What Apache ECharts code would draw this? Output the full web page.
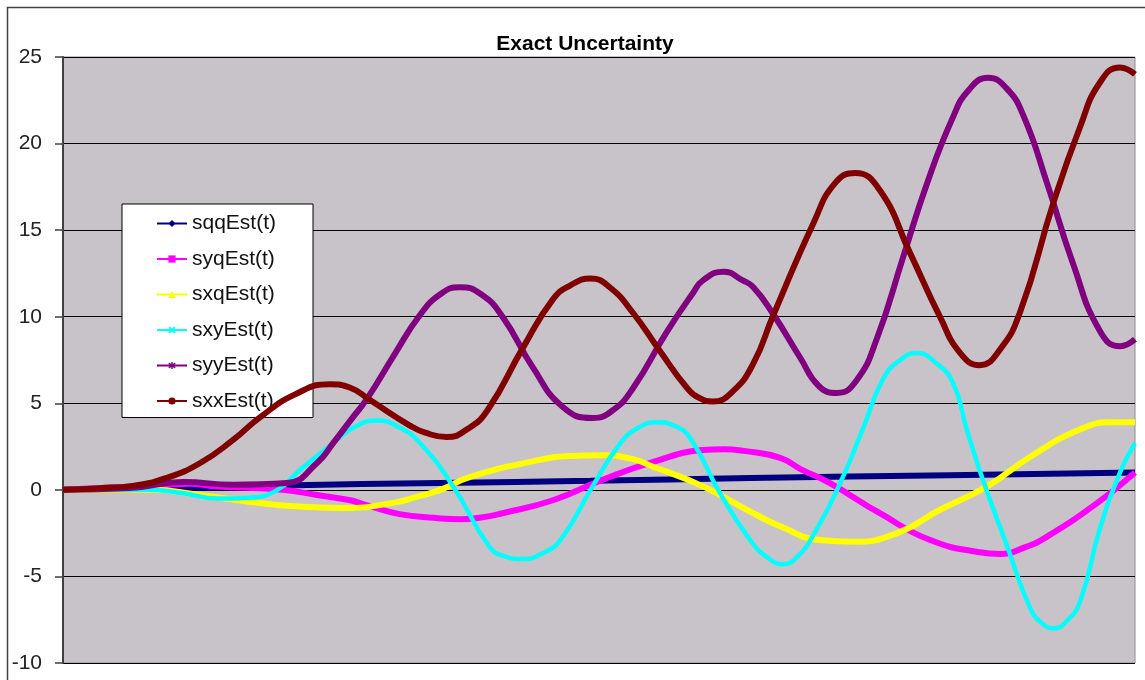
<!DOCTYPE html>
<html>
<head>
<meta charset="utf-8">
<script src="https://cdn.jsdelivr.net/npm/echarts@6/dist/echarts.min.js"></script>
<style>
html,body{margin:0;padding:0;background:#fff;}
#main{width:1145px;height:680px;}
</style>
</head>
<body>
<div id="main"></div>
<script>
const titleText = 'Exact Uncertainty';
const yTicks = [-10, -5, 0, 5, 10, 15, 20, 25];
const seriesNames = ['sqqEst(t)', 'syqEst(t)', 'sxqEst(t)', 'sxyEst(t)', 'syyEst(t)', 'sxxEst(t)'];

const sqq = [[0,0],[0.81,0.05],[1.28,0.12],[2.05,0.25],[3.52,0.4],[4.92,0.52],[6.41,0.68],[8.27,0.85],[10,1.0]];
const syq = [[0,0],[0.65,0.2],[0.97,0.3],[1.18,0.35],[1.44,0.2],[2.05,0],[2.37,-0.3],[2.68,-0.6],[2.84,-0.9],[3.14,-1.4],[3.52,-1.65],[3.70,-1.7],[3.90,-1.6],[4.10,-1.35],[4.57,-0.6],[5.04,0.6],[5.50,1.6],[5.97,2.3],[6.16,2.35],[6.35,2.25],[6.69,1.85],[6.88,1.2],[7.15,0.4],[7.62,-1.35],[8.09,-2.9],[8.55,-3.6],[8.74,-3.7],[8.96,-3.35],[9.18,-2.7],[9.65,-0.75],[10,1.0]];
const sxq = [[0,0],[0.81,0],[1.28,-0.3],[1.75,-0.7],[2.15,-0.95],[2.61,-1.05],[3.08,-0.75],[3.33,-0.35],[3.52,0],[3.80,0.75],[4.42,1.7],[4.73,1.95],[5.04,2.0],[5.30,1.8],[5.50,1.35],[5.97,0.2],[6.44,-1.35],[6.69,-2.1],[7.06,-2.9],[7.37,-3.0],[7.78,-2.5],[8.18,-1.15],[8.62,0.2],[9.02,1.9],[9.49,3.5],[9.79,3.9],[10,3.9]];
const sxy = [[0,0],[0.44,0],[0.81,0],[1.12,-0.2],[1.44,-0.5],[1.74,-0.45],[2.0,0],[2.21,1.15],[2.52,2.7],[2.71,3.6],[2.93,4.0],[3.14,3.6],[3.33,2.7],[3.64,0.2],[3.98,-3.3],[4.13,-3.85],[4.29,-4.0],[4.46,-3.7],[4.64,-2.9],[4.94,0.2],[5.20,2.7],[5.37,3.6],[5.54,3.9],[5.70,3.7],[5.85,3.0],[6.13,-0.2],[6.41,-2.9],[6.57,-3.9],[6.72,-4.3],[6.86,-3.8],[7.00,-2.6],[7.25,0.4],[7.46,3.5],[7.65,6.4],[7.81,7.5],[7.97,7.9],[8.13,7.4],[8.30,6.2],[8.43,3.5],[8.58,0.6],[8.81,-3.3],[9.02,-6.8],[9.13,-7.7],[9.24,-8.0],[9.36,-7.6],[9.49,-6.4],[9.67,-2.3],[9.86,1.0],[10,2.7]];
const syy = [[0,0],[0.62,0.1],[1.12,0.45],[1.59,0.3],[2.09,0.4],[2.37,1.55],[2.52,2.7],[2.68,4.0],[2.84,5.3],[3.08,7.7],[3.33,10.1],[3.52,11.3],[3.70,11.7],[3.90,11.3],[4.10,10.0],[4.38,7.1],[4.66,4.8],[4.94,4.15],[5.13,4.6],[5.32,5.9],[5.63,9.1],[5.88,11.4],[5.97,12.1],[6.16,12.6],[6.34,12.1],[6.44,11.7],[6.62,10.2],[6.88,7.6],[7.05,6.0],[7.22,5.6],[7.40,6.3],[7.59,8.7],[7.84,13.5],[8.06,17.7],[8.30,21.5],[8.45,23.1],[8.63,23.8],[8.80,23.2],[8.96,21.6],[9.18,17.7],[9.42,13.1],[9.67,9.2],[9.86,8.3],[10,8.7]];
const sxx = [[0,0],[0.34,0.1],[0.65,0.23],[0.97,0.7],[1.28,1.55],[1.59,2.9],[1.84,4.2],[2.16,5.5],[2.49,6.1],[2.68,5.9],[2.86,5.2],[3.24,3.7],[3.38,3.3],[3.58,3.05],[3.77,3.5],[3.96,4.6],[4.29,8.2],[4.57,11.0],[4.73,11.8],[4.92,12.2],[5.10,11.7],[5.32,10.2],[5.57,8.0],[5.82,5.9],[5.94,5.3],[6.06,5.1],[6.25,5.7],[6.44,7.3],[6.62,10.0],[7.00,15.4],[7.20,17.7],[7.39,18.3],[7.62,17.3],[7.90,13.7],[8.18,10.0],[8.37,7.9],[8.55,7.2],[8.74,8.1],[8.93,10.3],[9.24,16.6],[9.49,21.0],[9.67,23.5],[9.86,24.4],[10,24.0]];

const seriesData = [sqq, syq, sxq, sxy, syy, sxx];
const colors = ['#000080', '#FF00FF', '#FFFF00', '#00FFFF', '#800080', '#800000'];
const xShape = 'path://M0,2L2,0L5,3L8,0L10,2L7,5L10,8L8,10L5,7L2,10L0,8L3,5Z';
const starShape = 'path://M4,0L6,0L6,3L9,1L10,3L7,5L10,7L9,9L6,7L6,10L4,10L4,7L1,9L0,7L3,5L0,3L1,1L4,3Z';
const symbols = ['diamond', 'rect', 'triangle', xShape, starShape, 'circle'];
const widths = [6, 6, 6, 4.5, 6, 6];

const chart = echarts.init(document.getElementById('main'), null, {renderer: 'canvas'});
const option = {
  animation: false,
  backgroundColor: '#ffffff',
  title: {
    text: titleText,
    left: 580,
    top: 29,
    textAlign: 'center',
    textStyle: {fontFamily: 'Liberation Sans, Arial, sans-serif', fontSize: 21, fontWeight: 'bold', color: '#000'}
  },
  graphic: [{
    type: 'polyline',
    shape: {points: [[7.5, 690], [7.5, 7.5], [1150, 7.5]]},
    style: {stroke: '#404040', lineWidth: 1.5, fill: null},
    silent: true
  }],
  legend: {
    orient: 'vertical',
    left: 122,
    top: 204,
    padding: [9, 37, 6, 34],
    itemGap: 14.5,
    itemWidth: 30,
    itemHeight: 9,
    backgroundColor: '#ffffff',
    borderColor: '#000000',
    borderWidth: 1,
    borderRadius: 0,
    textStyle: {fontFamily: 'Liberation Sans, Arial, sans-serif', fontSize: 21, lineHeight: 20, color: '#111'},
    data: seriesNames
  },
  grid: {
    left: 63, right: 10, top: 57, bottom: 17,
    show: true,
    backgroundColor: '#C7C3C9',
    borderColor: '#8c8c8c',
    borderWidth: 1
  },
  xAxis: {
    type: 'value', min: 0, max: 10,
    axisLine: {show: false}, axisTick: {show: false}, axisLabel: {show: false}, splitLine: {show: false}
  },
  yAxis: {
    type: 'value', min: yTicks[0], max: yTicks[yTicks.length - 1], interval: 5,
    axisLine: {show: true, onZero: false, lineStyle: {color: '#404040', width: 2}},
    axisTick: {show: true, length: 8, lineStyle: {color: '#404040', width: 1.5}},
    axisLabel: {fontFamily: 'Liberation Sans, Arial, sans-serif', fontSize: 21, color: '#222', margin: 21},
    splitLine: {show: true, lineStyle: {color: '#000000', width: 1}}
  },
  series: seriesNames.map((name, i) => ({
    name: name,
    type: 'line',
    data: seriesData[i],
    smooth: 0.5,
    showSymbol: false,
    symbol: symbols[i],
    symbolSize: 8,
    color: colors[i],
    lineStyle: {color: colors[i], width: widths[i]},
    itemStyle: {color: colors[i]},
    z: 2 + i
  }))
};
chart.setOption(option);
</script>
</body>
</html>
